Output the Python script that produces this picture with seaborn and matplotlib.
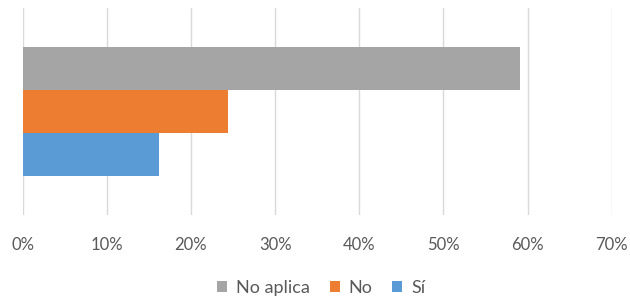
import matplotlib
matplotlib.use("Agg")
import matplotlib.pyplot as plt
import seaborn as sns
import pandas as pd
from matplotlib.patches import Patch
from matplotlib.ticker import FuncFormatter

series = ["No aplica", "No", "Sí"]
values = [0.591, 0.244, 0.162]
colors = ["#A5A5A5", "#ED7D31", "#5B9BD5"]
xticks = [0, 0.1, 0.2, 0.3, 0.4, 0.5, 0.6, 0.7]

sns.set_theme(style="white")
plt.rcParams["font.family"] = ["Lato", "DejaVu Sans"]

df = pd.DataFrame({"cat": [""] * 3, "serie": series, "valor": values})

fig = plt.figure(figsize=(6.3, 3.03), dpi=100)
ax = fig.add_axes([0.036, 0.29, 0.935, 0.684])
sns.barplot(data=df, y="cat", x="valor", hue="serie", hue_order=series,
            palette=colors, orient="h", width=0.623, ax=ax, legend=False,
            saturation=1, linewidth=0)
ax.set_xlim(0, 0.7)
ax.set_ylim(0.5, -0.5)
ax.set_xticks(xticks)
ax.xaxis.set_major_formatter(FuncFormatter(lambda v, p: f"{round(v*100)}%"))
ax.grid(axis="x", color="#D9D9D9", linewidth=1)
ax.set_axisbelow(True)
for s in ax.spines.values():
    s.set_visible(False)
ax.set_yticks([])
ax.set_xlabel("")
ax.set_ylabel("")
ax.tick_params(axis="x", length=0, pad=16, labelsize=12, labelcolor="#595959")

handles = [Patch(facecolor=c, edgecolor="none") for c in colors]
fig.legend(handles, series, loc="center", bbox_to_anchor=(0.51, 0.05), ncol=3,
           frameon=False, handlelength=0.55, handleheight=0.55, handletextpad=0.5,
           columnspacing=1.1, fontsize=13, labelcolor="#595959")

fig.savefig("out.png", dpi=100)
